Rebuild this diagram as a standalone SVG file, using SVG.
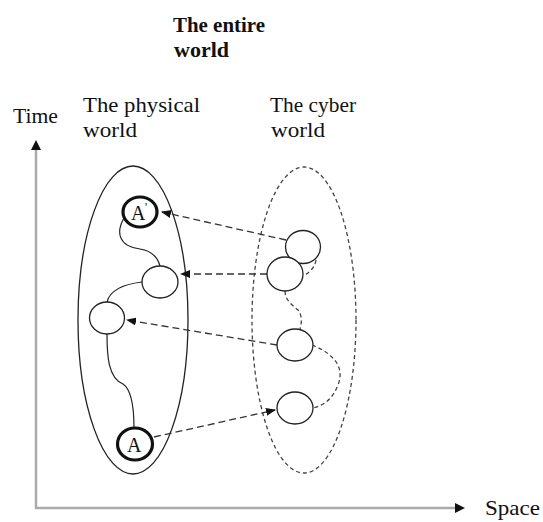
<svg xmlns="http://www.w3.org/2000/svg" width="543" height="522" viewBox="0 0 543 522">
<style>
text{font-family:"Liberation Serif","Times New Roman",serif;fill:#111;}
.lbl{font-size:22px;}
.ttl{font-size:21px;font-weight:bold;}
.node{fill:#fff;stroke:#222;stroke-width:1.3;}
.key{fill:#fff;stroke:#111;stroke-width:3.2;}
.solid{fill:none;stroke:#222;stroke-width:1.2;}
.dash{fill:none;stroke:#333;stroke-width:1.3;stroke-dasharray:7,4;}
.dot{fill:none;stroke:#444;stroke-width:1.3;stroke-dasharray:4,3;}
.axis{fill:none;stroke:#aaa;stroke-width:2.5;}
</style>
<defs>
<marker id="ah" markerWidth="10" markerHeight="8" refX="9" refY="4" orient="auto" markerUnits="userSpaceOnUse">
<path d="M0,0 L10,4 L0,8 Z" fill="#111"/>
</marker>
</defs>
<g id="title"><text class="ttl" x="173" y="32" textLength="92" lengthAdjust="spacingAndGlyphs">The entire</text><text class="ttl" x="174" y="57" textLength="55" lengthAdjust="spacingAndGlyphs">world</text></g>
<g id="axes">
<path class="axis" d="M36,150 L36,508 L455,508"/>
<path d="M31,150 L36,140 L41,150 Z" fill="#111"/>
<path d="M455,503 L465,508 L455,513 Z" fill="#111"/>
<text class="lbl" x="13" y="123" textLength="45" lengthAdjust="spacingAndGlyphs">Time</text>
<text class="lbl" x="485" y="515" textLength="55" lengthAdjust="spacingAndGlyphs">Space</text>
</g>
<g id="physical-world">
<ellipse cx="133" cy="320" rx="55" ry="154" fill="none" stroke="#222" stroke-width="1.3"/>
<text class="lbl" x="83" y="112" textLength="117" lengthAdjust="spacingAndGlyphs">The physical</text>
<text class="lbl" x="83" y="137" textLength="54" lengthAdjust="spacingAndGlyphs">world</text>
</g>
<g id="cyber-world">
<ellipse cx="304" cy="320" rx="52" ry="153" class="dot"/>
<text class="lbl" x="270" y="112" textLength="86" lengthAdjust="spacingAndGlyphs">The cyber</text>
<text class="lbl" x="271" y="137" textLength="54" lengthAdjust="spacingAndGlyphs">world</text>
</g>
<g id="connectors">
<path class="solid" d="M124,218 C116,232 118,246 140,249 C152,251 158,258 160,266"/>
<path class="solid" d="M142,282 C125,284 110,290 107,302"/>
<path class="solid" d="M107,334 C107,355 108,378 123,384 C132,390 134,410 134,428"/>
<path class="dot" d="M316,260 C315,267 310,272 305,275"/>
<path class="dot" d="M285,291 C285,300 292,305 298,310 C302,315 302,322 300,329"/>
<path class="dot" d="M312,345 C330,352 346,365 338,385 C333,398 325,405 313,408"/>
<path class="dash" d="M286,240 L162,212" marker-end="url(#ah)"/>
<path class="dash" d="M267,274 L181,274" marker-end="url(#ah)"/>
<path class="dash" d="M277,345 L127,320" marker-end="url(#ah)"/>
<path class="dash" d="M154,437 L275,410" marker-end="url(#ah)"/>
</g>
<g id="node-A-prime"><ellipse class="key" cx="140" cy="212" rx="17" ry="15"/><text x="131" y="220" font-size="20">A</text><text x="145" y="211" font-size="12">'</text></g>
<g id="node-p2"><ellipse class="node" cx="160" cy="282" rx="18" ry="16"/></g>
<g id="node-p3"><ellipse class="node" cx="107" cy="318" rx="17.5" ry="16"/></g>
<g id="node-A"><ellipse class="key" cx="135" cy="444" rx="17.5" ry="16"/><text x="127" y="452" font-size="20">A</text></g>
<g id="node-c1"><ellipse class="node" cx="303" cy="247" rx="17.5" ry="16.5"/></g>
<g id="node-c2"><ellipse class="node" cx="285" cy="274" rx="18" ry="17"/></g>
<g id="node-c3"><ellipse class="node" cx="295" cy="345" rx="18" ry="16"/></g>
<g id="node-c4"><ellipse class="node" cx="295" cy="408" rx="18" ry="16"/></g>
</svg>
